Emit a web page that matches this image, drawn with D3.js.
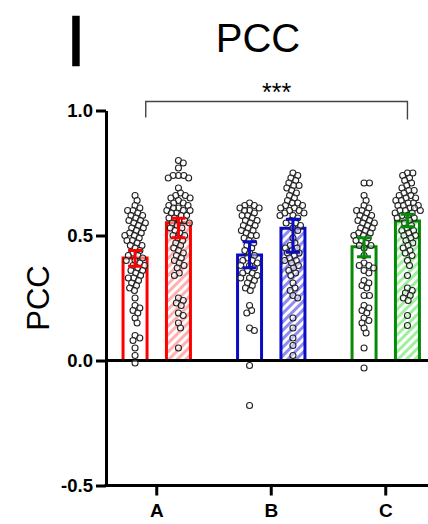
<!DOCTYPE html>
<html><head><meta charset="utf-8">
<script src="https://cdn.jsdelivr.net/npm/d3@7"></script>
<style>body{margin:0;background:#fff} svg{display:block}</style>
</head><body><svg id="c" width="428" height="524"></svg>
<script>
// ---------- data ----------
const groups = ["A", "B", "C"];
const conditions = ["plain", "hatched"];
const yTicks = [-0.5, 0.0, 0.5, 1.0];

const meanPlain   = [0.410, 0.422, 0.455];
const meanHatched = [0.551, 0.529, 0.558];
const errLowPlain    = [0.377, 0.371, 0.415];
const errHighPlain   = [0.440, 0.475, 0.491];
const errLowHatched  = [0.491, 0.433, 0.535];
const errHighHatched = [0.569, 0.565, 0.585];

const pointsAPlain = [0.66,0.64,0.62,0.61,0.60,0.60,0.59,0.58,0.58,0.57,0.56,0.56,0.55,0.55,0.54,0.53,0.53,0.52,0.51,0.51,0.50,0.50,0.49,0.48,0.48,0.47,0.46,0.46,0.45,0.44,0.43,0.42,0.42,0.41,0.40,0.40,0.39,0.38,0.38,0.37,0.36,0.36,0.35,0.34,0.33,0.33,0.32,0.31,0.30,0.29,0.28,0.25,0.22,0.21,0.20,0.19,0.17,0.15,0.10,0.09,0.08,0.05,0.02,-0.01];
const pointsAHatched = [0.80,0.79,0.77,0.74,0.74,0.74,0.73,0.73,0.69,0.67,0.66,0.66,0.65,0.65,0.64,0.63,0.63,0.62,0.62,0.61,0.61,0.60,0.60,0.60,0.59,0.59,0.58,0.58,0.57,0.57,0.56,0.56,0.55,0.55,0.54,0.53,0.53,0.52,0.51,0.50,0.50,0.49,0.48,0.47,0.46,0.45,0.44,0.43,0.42,0.41,0.40,0.39,0.38,0.37,0.35,0.34,0.25,0.24,0.23,0.22,0.19,0.18,0.15,0.13,0.05];
const pointsBPlain = [0.63,0.62,0.62,0.61,0.61,0.60,0.60,0.59,0.58,0.58,0.57,0.56,0.56,0.55,0.54,0.54,0.53,0.52,0.52,0.51,0.50,0.50,0.49,0.48,0.47,0.46,0.45,0.44,0.43,0.42,0.41,0.40,0.40,0.39,0.38,0.38,0.37,0.36,0.35,0.35,0.34,0.33,0.33,0.32,0.31,0.30,0.29,0.28,0.22,0.20,0.19,0.13,0.12,-0.02,-0.18];
const pointsBHatched = [0.75,0.74,0.73,0.72,0.71,0.70,0.70,0.69,0.68,0.67,0.66,0.65,0.64,0.63,0.63,0.62,0.62,0.61,0.61,0.60,0.60,0.59,0.59,0.58,0.58,0.57,0.56,0.55,0.55,0.54,0.53,0.52,0.49,0.47,0.46,0.45,0.45,0.44,0.43,0.43,0.42,0.41,0.40,0.40,0.39,0.38,0.37,0.36,0.35,0.34,0.31,0.29,0.28,0.26,0.25,0.17,0.13,0.09,0.06,0.02];
const pointsCPlain = [0.71,0.71,0.66,0.64,0.62,0.61,0.60,0.60,0.59,0.58,0.58,0.57,0.56,0.56,0.55,0.55,0.54,0.53,0.53,0.52,0.51,0.51,0.50,0.50,0.49,0.48,0.48,0.47,0.46,0.46,0.45,0.42,0.39,0.38,0.38,0.37,0.36,0.35,0.32,0.31,0.30,0.29,0.26,0.26,0.22,0.21,0.20,0.19,0.17,0.16,0.15,0.13,0.11,0.05,-0.03];
const pointsCHatched = [0.75,0.75,0.74,0.73,0.72,0.71,0.70,0.69,0.68,0.68,0.67,0.66,0.66,0.65,0.65,0.64,0.64,0.63,0.63,0.62,0.62,0.62,0.61,0.61,0.60,0.60,0.60,0.59,0.59,0.58,0.58,0.57,0.57,0.56,0.55,0.54,0.53,0.52,0.52,0.51,0.50,0.50,0.49,0.48,0.47,0.46,0.45,0.44,0.43,0.42,0.40,0.38,0.34,0.29,0.28,0.27,0.26,0.25,0.24,0.18,0.14];

const lineColors  = ["#ff0000", "#0b0bc4", "#078a07"];
const hatchColors = ["#ffb0b0", "#8e8ef2", "#9ef09e"];

// ---------- build ----------
const W = 428, H = 524;
const svg = d3.select("#c");

const x = d3.scaleBand().domain(groups).range([99.5, 443]);
const sub = d3.scalePoint().domain(conditions).range([-21.7, 21.7]);
const y = d3.scaleLinear().domain([-0.5, 1.0]).range([485.5, 110.5]);
const axisX = 106;

const pointSets = {
  A: {plain: pointsAPlain, hatched: pointsAHatched},
  B: {plain: pointsBPlain, hatched: pointsBHatched},
  C: {plain: pointsCPlain, hatched: pointsCHatched}
};
const bars = [];
groups.forEach((g, i) => {
  bars.push({g, c: "plain", i, mean: meanPlain[i], lo: errLowPlain[i], hi: errHighPlain[i], pts: pointSets[g].plain});
  bars.push({g, c: "hatched", i, mean: meanHatched[i], lo: errLowHatched[i], hi: errHighHatched[i], pts: pointSets[g].hatched});
});

// patterns
const defs = svg.append("defs");
groups.forEach((g, i) => {
  const p = defs.append("pattern").attr("id", "hatch" + i)
    .attr("patternUnits", "userSpaceOnUse").attr("width", 6).attr("height", 6)
    .attr("patternTransform", "rotate(45)");
  p.append("rect").attr("width", 6).attr("height", 6).attr("fill", "#fff");
  p.append("rect").attr("width", 3).attr("height", 6).attr("fill", hatchColors[i]);
});

const cx = d => x(d.g) + x.bandwidth() / 2 + sub(d.c);
const barW = 24;

// bars
svg.append("g").selectAll("rect").data(bars).join("rect")
  .attr("x", d => cx(d) - barW / 2)
  .attr("y", d => y(d.mean))
  .attr("width", barW)
  .attr("height", d => y(0) - y(d.mean))
  .attr("fill", d => d.c === "plain" ? "#fff" : `url(#hatch${d.i})`)
  .attr("stroke", d => lineColors[d.i])
  .attr("stroke-width", 3);

// zero line
svg.append("line").attr("x1", axisX).attr("x2", W).attr("y1", y(0)).attr("y2", y(0))
  .attr("stroke", "#000").attr("stroke-width", 3);

// beeswarm points
const r = 3, dmin = 5.4, maxSpread = 14;
function swarm(values, center) {
  const sorted = values.map(v => ({v, py: y(v)})).sort((a, b) => a.py - b.py);
  const placed = [];
  sorted.forEach(p => {
    const cands = [0];
    placed.forEach(q => {
      const dy = p.py - q.py;
      if (Math.abs(dy) < dmin) {
        const dx = Math.sqrt(dmin * dmin - dy * dy);
        cands.push(q.dx + dx, q.dx - dx);
      }
    });
    cands.sort((a, b) => Math.abs(a) - Math.abs(b));
    let chosen = null;
    for (const c of cands) {
      if (Math.abs(c) > maxSpread) continue;
      const ok = placed.every(q => {
        const ddx = c - q.dx, ddy = p.py - q.py;
        return ddx * ddx + ddy * ddy >= dmin * dmin - 0.01;
      });
      if (ok) { chosen = c; break; }
    }
    if (chosen === null) {
      let best = 0, bestScore = -1;
      for (let c = -maxSpread + 2; c <= maxSpread - 2; c += 0.5) {
        const s = d3.min(placed, q => (c - q.dx) ** 2 + (p.py - q.py) ** 2);
        if (s > bestScore) { bestScore = s; best = c; }
      }
      chosen = best;
    }
    p.dx = chosen;
    placed.push(p);
  });
  return placed.map(p => ({x: center + p.dx, y: p.py}));
}
const ptsG = svg.append("g");
bars.forEach(d => {
  ptsG.append("g").selectAll("circle").data(swarm(d.pts, cx(d))).join("circle")
    .attr("cx", p => p.x).attr("cy", p => p.y).attr("r", r)
    .attr("fill", "#fff").attr("fill-opacity", 0.45)
    .attr("stroke", "#222").attr("stroke-width", 1.1);
});

// error bars
const eb = svg.append("g").selectAll("g").data(bars).join("g")
  .attr("stroke", d => lineColors[d.i]).attr("stroke-width", 3);
eb.append("line").attr("x1", cx).attr("x2", cx).attr("y1", d => y(d.lo)).attr("y2", d => y(d.hi));
eb.append("line").attr("x1", d => cx(d) - 7).attr("x2", d => cx(d) + 7).attr("y1", d => y(d.lo)).attr("y2", d => y(d.lo));
eb.append("line").attr("x1", d => cx(d) - 7).attr("x2", d => cx(d) + 7).attr("y1", d => y(d.hi)).attr("y2", d => y(d.hi));

// y axis
const yAx = svg.append("g").attr("transform", `translate(${axisX},0)`)
  .call(d3.axisLeft(y).tickValues(yTicks).tickSize(10).tickSizeOuter(0).tickPadding(3)
    .tickFormat(v => d3.format(".1f")(v).replace("\u2212", "-")));
yAx.select(".domain").attr("stroke-width", 3);
yAx.selectAll(".tick line").attr("stroke-width", 3);
yAx.selectAll("text").attr("font-family", "Liberation Sans, Arial, sans-serif")
  .attr("font-weight", "bold").attr("font-size", 18.5).attr("fill", "#000");

// x axis at bottom
svg.append("line").attr("x1", axisX - 1.5).attr("x2", W).attr("y1", y(-0.5)).attr("y2", y(-0.5))
  .attr("stroke", "#000").attr("stroke-width", 3);
const xAx = svg.append("g").attr("transform", `translate(0,${y(-0.5)})`)
  .call(d3.axisBottom(x).tickSize(10).tickSizeOuter(0).tickPadding(8));
xAx.select(".domain").remove();
xAx.selectAll(".tick line").attr("stroke-width", 3);
xAx.selectAll("text").attr("font-family", "Liberation Sans, Arial, sans-serif")
  .attr("font-weight", "bold").attr("font-size", 19).attr("fill", "#000");

// y label
svg.append("text").attr("transform", `translate(49,${(y(1) + y(-0.5)) / 2}) rotate(-90)`)
  .attr("text-anchor", "middle").attr("font-family", "Liberation Sans, Arial, sans-serif")
  .attr("font-size", 31).text("PCC");

// title
svg.append("text").attr("x", 258).attr("y", 52).attr("text-anchor", "middle")
  .attr("font-family", "Liberation Sans, Arial, sans-serif").attr("font-size", 40).text("PCC");

// panel label
svg.append("text").attr("x", 76).attr("y", 66).attr("text-anchor", "middle")
  .attr("font-family", "Liberation Sans, Arial, sans-serif").attr("font-size", 73)
  .attr("stroke", "#000").attr("stroke-width", 0.6).text("I");

// significance bracket
const bx1 = x("A") + x.bandwidth() / 2 - 11;
const bx2 = x("C") + x.bandwidth() / 2 + sub("hatched");
const by = 101.5;
svg.append("path").attr("d", `M${bx1},${by + 16}V${by}H${bx2}V${by + 18}`)
  .attr("fill", "none").attr("stroke", "#444").attr("stroke-width", 1.4);
svg.append("text").attr("x", (bx1 + bx2) / 2).attr("y", by - 1).attr("text-anchor", "middle")
  .attr("font-family", "Liberation Sans, Arial, sans-serif").attr("font-size", 25).text("***");
</script></body></html>
